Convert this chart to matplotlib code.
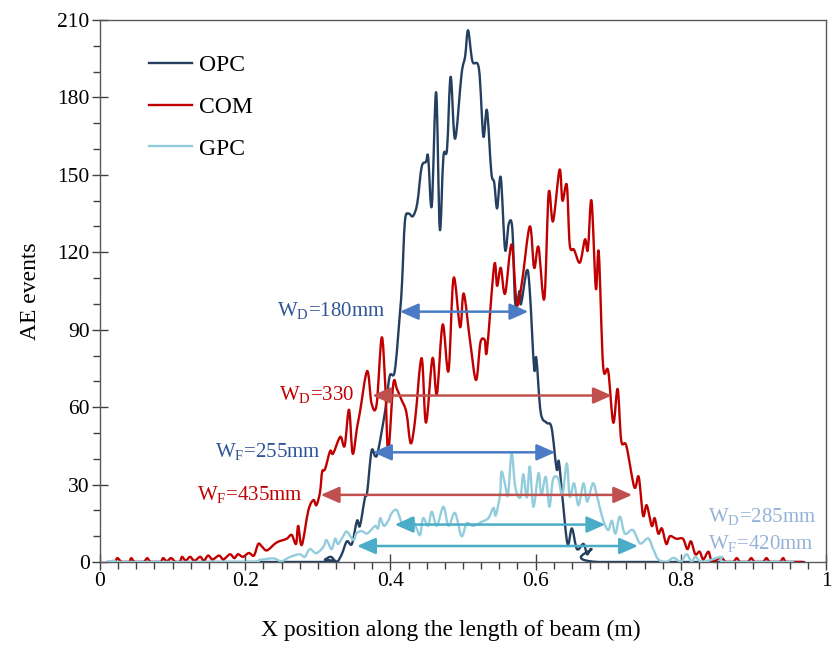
import matplotlib
matplotlib.use("Agg")
import numpy as np
import matplotlib.pyplot as plt
from matplotlib.path import Path
from matplotlib.patches import PathPatch
from matplotlib.lines import Line2D
from matplotlib.ticker import MultipleLocator, FuncFormatter

# ---------------------------------------------------------------------------
# Data (x in m, y = AE events)
# ---------------------------------------------------------------------------
opc_x = [0.01, 0.30, 0.31, 0.318, 0.326, 0.333, 0.340, 0.347, 0.354, 0.358,
         0.365, 0.368, 0.374, 0.379, 0.383, 0.393, 0.399, 0.406, 0.413, 0.416,
         0.420, 0.425, 0.431, 0.437, 0.443, 0.449, 0.452, 0.457, 0.463, 0.468,
         0.473, 0.478, 0.483, 0.489, 0.498, 0.503, 0.507, 0.513, 0.522, 0.528,
         0.533, 0.539, 0.543, 0.547, 0.552, 0.558, 0.563, 0.568, 0.572, 0.578,
         0.580, 0.588, 0.592, 0.598, 0.601, 0.607, 0.615, 0.622, 0.629, 0.632,
         0.637, 0.644, 0.650, 0.657, 0.666, 0.671, 0.677, 0.686, 0.97]
opc_y = [0, 0, 1, 2, 0, 3, 8, 7, 16, 14,
         25, 27, 43, 41, 43, 59, 72, 74, 96, 108,
         132, 135, 134, 139, 153, 155, 157, 138, 182, 129,
         157, 160, 188, 164, 189, 196, 206, 194, 191, 165,
         175, 151, 147, 137, 149, 121, 131, 129, 100, 105,
         100, 113, 105, 75, 79, 58, 54, 52, 36, 39,
         25, 7, 13, 5, 7, 3, 5, 0, 0]

com_x = [0.01, 0.02, 0.024, 0.03, 0.04, 0.043, 0.048, 0.06, 0.065, 0.07,
         0.083, 0.087, 0.092, 0.098, 0.104, 0.110, 0.113, 0.118, 0.124, 0.13,
         0.138, 0.143, 0.149, 0.155, 0.164, 0.17, 0.179, 0.185, 0.19, 0.197,
         0.205, 0.212, 0.218, 0.223, 0.23, 0.243, 0.257, 0.264, 0.27, 0.273,
         0.278, 0.287, 0.294, 0.298, 0.303, 0.306, 0.310, 0.317, 0.321, 0.331,
         0.337, 0.343, 0.348, 0.354, 0.358, 0.368, 0.374, 0.381, 0.388, 0.393,
         0.397, 0.404, 0.409, 0.415, 0.422, 0.428, 0.434, 0.443, 0.449, 0.458,
         0.464, 0.472, 0.480, 0.487, 0.496, 0.501, 0.510, 0.518, 0.524, 0.530,
         0.533, 0.543, 0.547, 0.552, 0.558, 0.567, 0.574, 0.581, 0.592, 0.598,
         0.604, 0.612, 0.618, 0.624, 0.633, 0.637, 0.643, 0.647, 0.653, 0.661,
         0.668, 0.672, 0.677, 0.683, 0.687, 0.693, 0.700, 0.707, 0.713, 0.718,
         0.725, 0.736, 0.742, 0.748, 0.753, 0.760, 0.764, 0.769, 0.774, 0.780,
         0.785, 0.794, 0.803, 0.809, 0.814, 0.820, 0.826, 0.831, 0.838, 0.843,
         0.856, 0.862, 0.872, 0.877, 0.882, 0.892, 0.897, 0.902, 0.913, 0.918,
         0.923, 0.936, 0.941, 0.946, 0.967]
com_y = [0, 0, 1.5, 0, 0, 1.5, 0, 0, 1.5, 0,
         0, 1.5, 0.3, 1.5, 0, 0, 2, 0.5, 2, 0.5,
         2, 0.5, 2.5, 1, 2.5, 1, 3, 1.5, 3, 2,
         3.5, 2.5, 7, 6, 4.5, 7.5, 9, 10.5, 7, 14,
         6.6, 20, 24, 22, 27, 35, 36, 43, 42, 48.5,
         45, 59, 42, 52, 58, 74, 61.5, 61, 87, 68,
         43, 69, 67, 63, 58, 46, 55, 79, 54, 79,
         65, 92, 74, 110, 91, 104, 85, 70.5, 85, 86,
         82, 115, 107, 114, 104, 123, 100, 108, 130, 114,
         122, 102, 143, 132, 152, 140, 146, 123, 121, 116,
         125, 121, 140, 106, 120, 76, 74, 54, 67, 47,
         45, 29, 33, 18, 22, 14, 17, 11, 13, 7,
         10, 9, 9, 5, 8, 3, 4, 1, 4, 0.5,
         1.5, 0, 0, 1.5, 0, 0, 1.5, 0, 0, 1.5,
         0, 0, 1.5, 0, 0]

gpc_x = [0.01, 0.02, 0.03, 0.2, 0.22, 0.239, 0.25, 0.262, 0.275, 0.282,
         0.289, 0.298, 0.308, 0.312, 0.319, 0.324, 0.328, 0.335, 0.340, 0.349,
         0.353, 0.360, 0.367, 0.372, 0.379, 0.383, 0.386, 0.391, 0.397, 0.402,
         0.409, 0.418, 0.429, 0.436, 0.441, 0.445, 0.452, 0.457, 0.464, 0.473,
         0.480, 0.489, 0.498, 0.505, 0.514, 0.526, 0.535, 0.542, 0.545, 0.551,
         0.553, 0.558, 0.562, 0.567, 0.572, 0.579, 0.583, 0.588, 0.592, 0.597,
         0.604, 0.608, 0.614, 0.619, 0.624, 0.631, 0.637, 0.643, 0.647, 0.653,
         0.659, 0.666, 0.671, 0.679, 0.685, 0.693, 0.700, 0.705, 0.710, 0.716,
         0.723, 0.734, 0.744, 0.755, 0.762, 0.769, 0.780, 0.790, 0.80, 0.808,
         0.815, 0.82, 0.83, 0.856, 0.862, 0.955]
gpc_y = [0, 0.5, 0, 0, 0.8, 1.4, 0.3, 2, 3, 2,
         5, 3.4, 6, 8.5, 5, 9, 7, 10, 11.8, 8.5,
         11, 12, 11, 12, 14, 13, 17, 14, 16, 19,
         20, 14, 17, 13, 10.5, 17, 14, 19.5, 14, 21.4,
         14, 19, 10, 15, 14, 15.6, 17, 21, 18, 26,
         35, 30, 26, 42, 29, 25, 34, 25, 37, 21.4,
         34.4, 26, 33, 21.4, 32, 32.4, 26, 38.2, 25.3, 30.5,
         22, 30.5, 23.4, 30.5, 25, 16.3, 12.4, 16, 11, 17.6,
         11, 12.4, 7.2, 9.2, 5, 1, 0, 1.6, 0, 3,
         0, 2, 0, 2, 0, 0]

# width arrows: start x, end x, height
arrow_x0 = [0.413, 0.375, 0.376, 0.304, 0.406, 0.354]
arrow_x1 = [0.590, 0.705, 0.627, 0.733, 0.696, 0.741]
arrow_y = [97, 64.5, 42.5, 26, 14.5, 6.2]
arrow_colors = ["#4a7bc4", "#c0504d", "#4a7bc4", "#c0504d", "#4aacc6", "#4aacc6"]

width_labels = [r"W$_\mathregular{D}$=180mm", r"W$_\mathregular{D}$=330",
                r"W$_\mathregular{F}$=255mm", r"W$_\mathregular{F}$=435mm"]
width_label_colors = ["#2f5597", "#c00000", "#2f5597", "#c00000"]
gpc_labels = [r"W$_\mathregular{D}$=285mm", r"W$_\mathregular{F}$=420mm"]

SERIES = [("OPC", opc_x, opc_y, "#243f60", 3),
          ("COM", com_x, com_y, "#c00000", 4),
          ("GPC", gpc_x, gpc_y, "#93cddd", 5)]


def smooth_path(xs, ys):
    """Excel-like smoothed line: cubic Bezier segments through every point."""
    p = np.column_stack([xs, ys]).astype(float)
    ext = np.vstack([p[0], p, p[-1]])
    verts = [p[0]]
    codes = [Path.MOVETO]
    for i in range(len(p) - 1):
        c1 = ext[i + 1] + (ext[i + 2] - ext[i]) / 6
        c2 = ext[i + 2] - (ext[i + 3] - ext[i + 1]) / 6
        c1[1] = max(c1[1], 0)
        c2[1] = max(c2[1], 0)
        verts += [c1, c2, p[i + 1]]
        codes += [Path.CURVE4] * 3
    return Path(verts, codes)


# ---------------------------------------------------------------------------
plt.rcParams["font.family"] = ["Liberation Serif", "DejaVu Serif"]
plt.rcParams["mathtext.fontset"] = "custom"
plt.rcParams["mathtext.rm"] = "Liberation Serif"

fig = plt.figure(figsize=(8.35, 6.46), dpi=100)
ax = fig.add_axes([100 / 835, 1 - 562 / 646, 726 / 835, 542 / 646])

handles = []
for name, xs, ys, color, z in SERIES:
    ax.add_patch(PathPatch(smooth_path(xs, ys), fill=False, edgecolor=color,
                           lw=1.7, zorder=z, capstyle="round", joinstyle="round"))
    handles.append(Line2D([], [], color=color, lw=1.7, label=name))

for x0, x1, y, c in zip(arrow_x0, arrow_x1, arrow_y, arrow_colors):
    ax.annotate("", xy=(x1, y), xytext=(x0, y),
                arrowprops=dict(arrowstyle="<|-|>,head_length=0.75,head_width=0.33",
                                color=c, lw=1.8, mutation_scale=15,
                                shrinkA=0, shrinkB=0), zorder=6)

label_xs = [0.3926, 0.350, 0.304, 0.280]
for lab, c, x0, y in zip(width_labels, width_label_colors, label_xs, arrow_y):
    ax.text(x0, y, lab, color=c, fontsize=15, ha="right", va="center", zorder=7)

ax.text(0.837, 17.5, gpc_labels[0], color="#95b3d7", fontsize=15, ha="left", va="center")
ax.text(0.837, 7.0, gpc_labels[1], color="#95b3d7", fontsize=15, ha="left", va="center")

ax.set_xlim(0, 1)
ax.set_ylim(0, 210)
ax.xaxis.set_major_locator(MultipleLocator(0.2))
ax.xaxis.set_minor_locator(MultipleLocator(0.025))
ax.yaxis.set_major_locator(MultipleLocator(30))
ax.yaxis.set_minor_locator(MultipleLocator(10))
ax.xaxis.set_major_formatter(FuncFormatter(lambda v, p: f"{v:g}"))

for s in ax.spines.values():
    s.set_color("#595959")
    s.set_linewidth(1.0)
ax.tick_params(which="major", direction="inout", length=11, width=1.0,
               color="#404040", labelsize=15.5, pad=2)
ax.tick_params(which="minor", direction="out", length=5, width=1.0, color="#404040")
ax.tick_params(axis="x", which="major", pad=2)

ax.set_xlabel("X position along the length of beam (m)", fontsize=17, labelpad=17)
ax.xaxis.set_label_coords(0.483, -0.107)
ax.set_ylabel("AE events", fontsize=17, labelpad=12)

ax.legend(handles=handles, loc="upper left", bbox_to_anchor=(0.055, 0.953),
          frameon=False, fontsize=17, handlelength=1.8, handletextpad=0.3,
          labelspacing=0.85, borderaxespad=0)

fig.savefig("out.png", dpi=100)
